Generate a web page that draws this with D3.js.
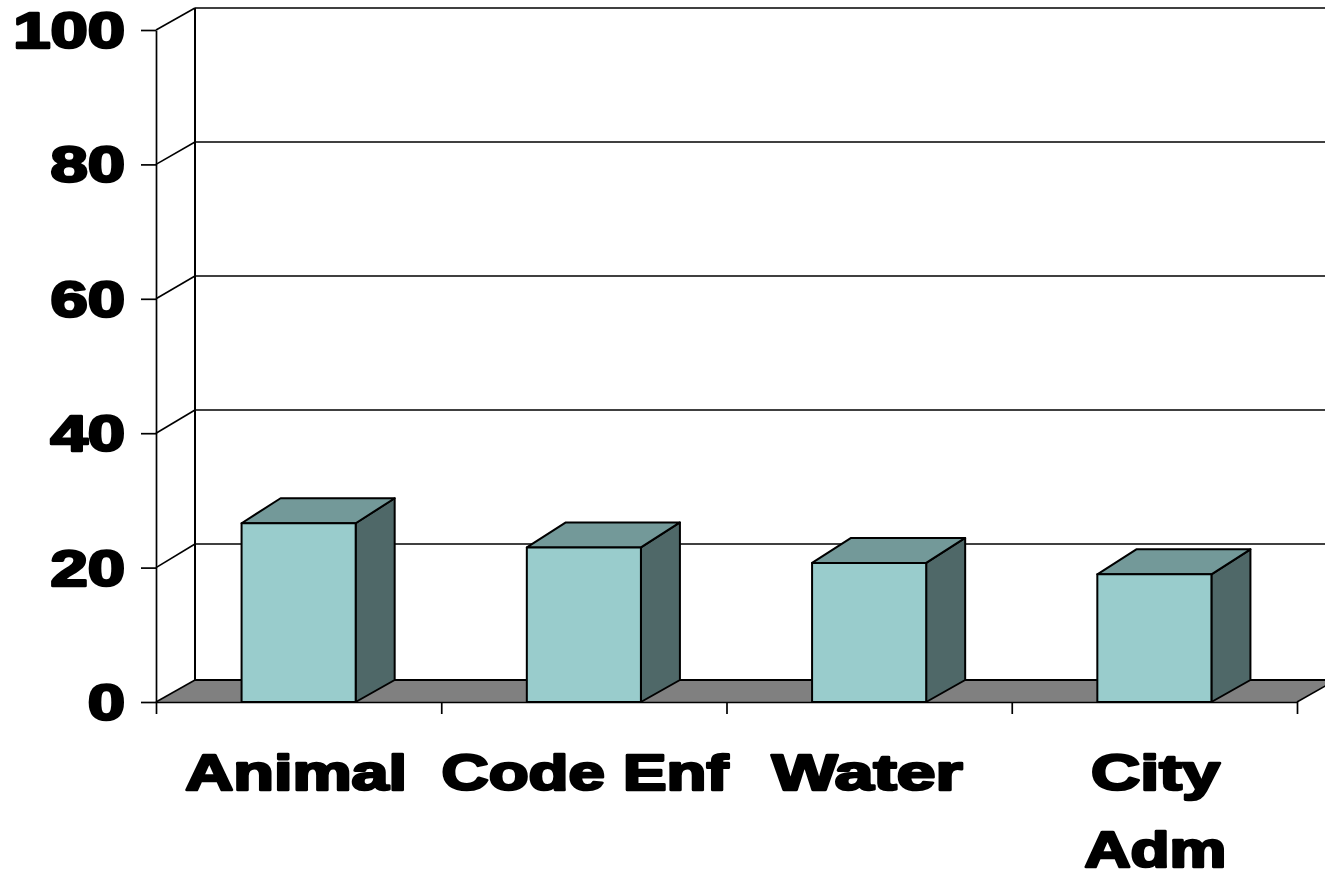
<!DOCTYPE html>
<html><head><meta charset="utf-8">
<script src="https://cdn.jsdelivr.net/npm/d3@7/dist/d3.min.js"></script>
<style>html,body{margin:0;padding:0;background:#fff;overflow:hidden}svg{display:block}
text{font-family:"Liberation Sans",Arial,sans-serif;font-weight:700;font-size:50px;fill:#000;stroke:#000;stroke-width:2.6px;stroke-linejoin:round}</style>
</head><body><svg id="c" width="1325" height="871"></svg>
<script>
const categories = [["Animal"],["Code Enf"],["Water"],["City","Adm"]];
const values = [26.6, 23.0, 20.7, 19.0];
const yTicks = [0,20,40,60,80,100];
// layout only: drawn width and horizontal nudge of each category label
const labelWidths = [[222],[287],[191],[129,142]];
const labelNudge = [-2.5,1,-2,1];

const W=1325,H=871,dx=39,floorDy=-22,barDy=-25,stretch=1.34;
const svg=d3.select("#c");
const y=d3.scaleLinear().domain([0,100]).range([702,30]);
const yBack=d3.scaleLinear().domain([0,100]).range([678,8]);
const x=d3.scaleBand().domain(categories.map((d,i)=>i)).range([156,1297]).paddingInner(0.6).paddingOuter(0.3);
const line=(a,b,w=1.5)=>svg.append("line").attr("x1",a[0]).attr("y1",a[1]).attr("x2",b[0]).attr("y2",b[1]).attr("stroke","#000").attr("stroke-width",w);
const poly=(pts,fill)=>svg.append("polygon").attr("points",pts.join(" ")).attr("fill",fill).attr("stroke","#000").attr("stroke-width",2).attr("stroke-linejoin","round");

// floor
const x0=x.range()[0],x1=x.range()[1],fy=y(0)+floorDy;
svg.append("polygon").attr("points",[[x0,y(0)],[x0+dx,fy],[x1+dx,fy],[x1,y(0)]].join(" ")).attr("fill","#808080");
line([x0+dx,fy],[W,fy],2);
line([x0,y(0)],[x0+dx,fy],1.5);
line([x1,y(0)],[x1+dx,fy],1.5);

// back wall + gridlines + side wall
line([x0+dx,yBack(100)],[x0+dx,fy],2);
yTicks.forEach(t=>{
  if(t>0){ line([x0+dx,yBack(t)],[W,yBack(t)],1.6); line([x0,y(t)],[x0+dx,yBack(t)],1.6); }
});

// bars
values.forEach((v,i)=>{
  const l=x(i),r=l+x.bandwidth(),t=y(v),b=y(0);
  poly([[r,b],[r+dx,b+floorDy],[r+dx,t+barDy],[r,t]],"#4F6868");
  poly([[l,t],[l+dx,t+barDy],[r+dx,t+barDy],[r,t]],"#739999");
  poly([[l,t],[r,t],[r,b],[l,b]],"#99CCCC");
});

// axes
svg.append("g").attr("transform",`translate(${x0},0)`).call(d3.axisLeft(y).tickValues(yTicks).tickSize(15).tickSizeOuter(0).tickFormat(""));
const xt=d3.scaleLinear().domain([0,categories.length]).range([x0,x1]);
svg.append("g").attr("transform",`translate(0,${y(0)})`).call(d3.axisBottom(xt).ticks(categories.length).tickSize(12).tickSizeOuter(0).tickFormat(""));
svg.selectAll(".domain,.tick line").attr("stroke","#000").attr("stroke-width",1.7);

// labels
yTicks.forEach(t=>{
  svg.append("text").attr("text-anchor","end")
    .attr("transform",`translate(125,${y(t)+18}) scale(${stretch},1)`).text(t);
});
categories.forEach((lines,i)=>{
  lines.forEach((s,j)=>{
    const el=svg.append("text").attr("text-anchor","middle").text(s);
    const sx=labelWidths[i][j]/el.node().getComputedTextLength();
    el.attr("transform",`translate(${x(i)+x.bandwidth()/2+labelNudge[i]},${790+j*77}) scale(${sx},1)`);
  });
});
</script></body></html>
